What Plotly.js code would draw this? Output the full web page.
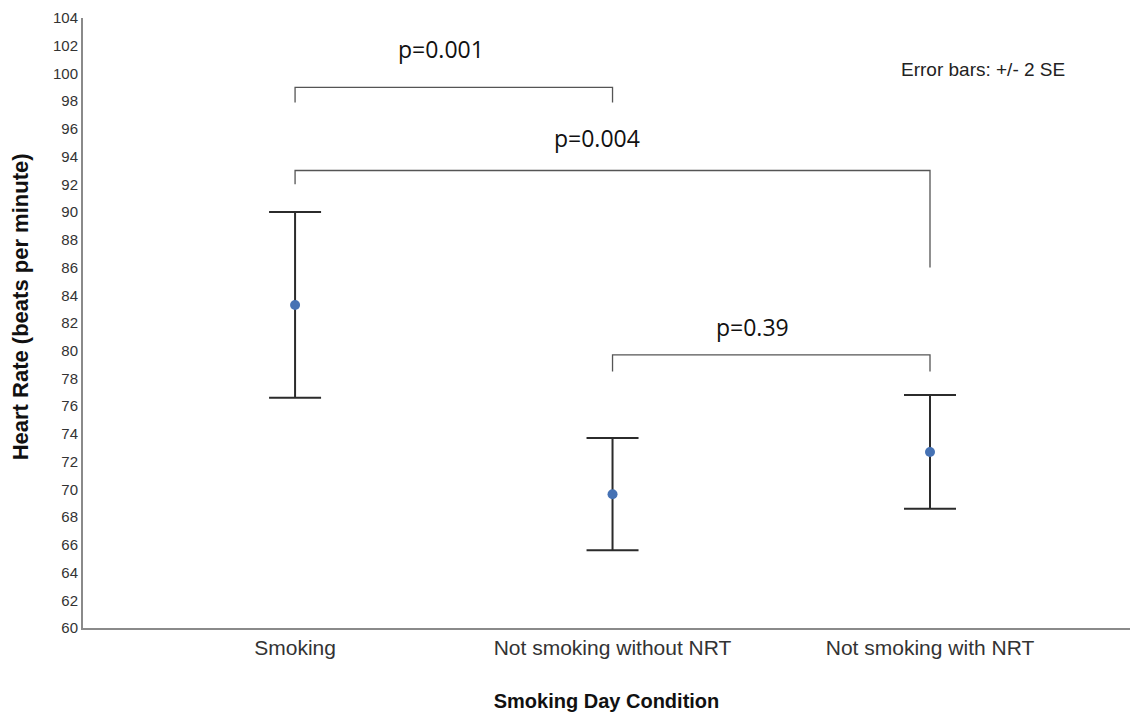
<!DOCTYPE html>
<html>
<head>
<meta charset="utf-8">
<script src="https://cdn.plot.ly/plotly-3.0.1.min.js"></script>
<style>html,body{margin:0;padding:0;background:#fff;}#chart{width:1136px;height:718px;}</style>
</head>
<body>
<div id="chart"></div>
<script>
// Data
const categories = ["Smoking", "Not smoking without NRT", "Not smoking with NRT"];
const means = [83.3, 69.65, 72.7];
const errPlus = [6.7, 4.05, 4.1];   // +2 SE
const errMinus = [6.7, 4.05, 4.1];  // -2 SE
const yTickVals = [60,62,64,66,68,70,72,74,76,78,80,82,84,86,88,90,92,94,96,98,100,102,104];

// Significance brackets (category indices, heart-rate units)
const bracketFrom = [0, 0, 1];
const bracketTo = [1, 2, 2];
const bracketTop = [99.0, 93.0, 79.7];
const bracketLeftEnd = [97.9, 92.0, 78.5];
const bracketRightEnd = [97.9, 86.0, 78.5];
const bracketLabels = ["p=0.001", "p=0.004", "p=0.39"];
const bracketLabelX = [0.46, 0.95, 1.44];
const bracketLabelY = [101.8, 95.35, 81.7];

const xIdx = categories.map((c, i) => i);

const trace = {
  type: "scatter",
  mode: "markers",
  x: xIdx,
  y: means,
  marker: {color: "#4672b4", size: 10, line: {width: 0}},
  error_y: {
    type: "data",
    symmetric: false,
    array: errPlus,
    arrayminus: errMinus,
    color: "#2b2b2b",
    thickness: 2,
    width: 26
  },
  hoverinfo: "skip",
  showlegend: false
};

const shapes = [];
const annotations = [];
for (let i = 0; i < bracketFrom.length; i++) {
  const x0 = bracketFrom[i], x1 = bracketTo[i];
  shapes.push({
    type: "path",
    xref: "x", yref: "y",
    path: `M ${x0} ${bracketLeftEnd[i]} L ${x0} ${bracketTop[i]} L ${x1} ${bracketTop[i]} L ${x1} ${bracketRightEnd[i]}`,
    line: {color: "#555555", width: 1.3}
  });
  annotations.push({
    xref: "x", yref: "y",
    x: bracketLabelX[i], y: bracketLabelY[i],
    text: bracketLabels[i],
    showarrow: false,
    font: {family: "Open Sans, sans-serif", size: 23, color: "#111"}
  });
}
annotations.push({
  xref: "paper", yref: "paper",
  x: 0.86, y: 0.915,
  xanchor: "center", yanchor: "middle",
  text: "Error bars: +/- 2 SE",
  showarrow: false,
  font: {family: "Liberation Sans, Arial, sans-serif", size: 19, color: "#222"}
});
annotations.push({
  xref: "paper", yref: "paper",
  x: -0.060, y: 0.526,
  xanchor: "center", yanchor: "middle",
  textangle: -90,
  text: "<b>Heart Rate (beats per minute)</b>",
  showarrow: false,
  font: {family: "Liberation Sans, Arial, sans-serif", size: 22, color: "#111"}
});

const layout = {
  width: 1136, height: 718,
  margin: {l: 83, r: 6, t: 18, b: 90},
  paper_bgcolor: "#fff", plot_bgcolor: "#fff",
  showlegend: false,
  xaxis: {
    range: [-0.668, 2.63],
    tickvals: xIdx,
    ticktext: categories,
    showgrid: false, zeroline: false,
    showline: true, linecolor: "#8a8a8a", linewidth: 2,
    ticks: "",
    tickfont: {family: "Liberation Sans, Arial, sans-serif", size: 21, color: "#333"},
    title: {text: "<b>Smoking Day Condition</b>", standoff: 36,
            font: {family: "Liberation Sans, Arial, sans-serif", size: 20, color: "#111"}}
  },
  yaxis: {
    range: [60, 104],
    tickvals: yTickVals,
    showgrid: false, zeroline: false,
    showline: true, linecolor: "#8a8a8a", linewidth: 2,
    ticks: "",
    tickfont: {family: "Liberation Sans, Arial, sans-serif", size: 15, color: "#333"}
  },
  shapes: shapes,
  annotations: annotations
};

Plotly.newPlot("chart", [trace], layout, {displayModeBar: false, staticPlot: true});
</script>
</body>
</html>
